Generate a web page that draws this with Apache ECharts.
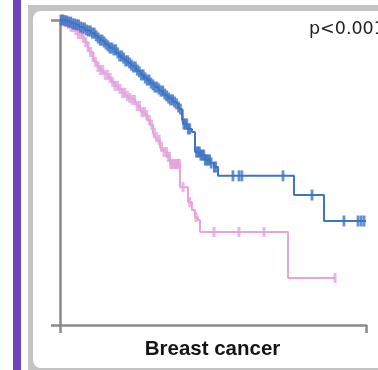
<!DOCTYPE html>
<html>
<head>
<meta charset="utf-8">
<script src="https://cdn.jsdelivr.net/npm/echarts@6/dist/echarts.min.js"></script>
<style>html,body{margin:0;padding:0;background:#fff;}#c{width:378px;height:370px;}</style>
</head>
<body>
<div id="c"></div>
<script>
// Kaplan-Meier step points: [time, survival] (survival after drop at time)
var timeMax = 250;
var blueCurve = [[0,1.0],[3.3,0.997],[6.5,0.993],[9.8,0.987],[12.3,0.984],[15.5,0.977],[18.0,0.974],[20.4,0.967],[22.9,0.964],[25.3,0.957],[28.6,0.948],[31.0,0.941],[32.7,0.934],[35.1,0.928],[36.8,0.921],[39.2,0.915],[40.8,0.908],[43.3,0.902],[45.8,0.892],[48.2,0.882],[50.7,0.875],[53.1,0.866],[55.6,0.859],[58.0,0.852],[59.6,0.846],[62.1,0.836],[63.7,0.830],[66.2,0.820],[68.6,0.810],[71.1,0.803],[73.5,0.793],[76.0,0.787],[77.6,0.780],[80.1,0.774],[81.7,0.767],[84.2,0.757],[85.8,0.751],[88.2,0.744],[89.9,0.738],[92.3,0.731],[94.0,0.725],[96.4,0.715],[98.0,0.708],[99.7,0.689],[100.5,0.659],[103.8,0.643],[107.8,0.633],[110.3,0.567],[114.4,0.557],[118.5,0.541],[122.5,0.531],[125.8,0.518],[129.1,0.489],[191.2,0.426],[215.7,0.341],[250,0.341]];
var pinkCurve = [[0,1.0],[3.3,0.993],[6.5,0.987],[9.0,0.977],[12.3,0.967],[14.7,0.954],[18.0,0.941],[20.4,0.928],[22.9,0.911],[24.5,0.895],[27.0,0.879],[28.6,0.862],[31.0,0.846],[32.7,0.836],[35.1,0.826],[36.8,0.820],[39.2,0.810],[41.7,0.797],[44.9,0.784],[47.4,0.774],[50.7,0.761],[53.1,0.751],[55.6,0.744],[58.0,0.738],[61.3,0.731],[62.9,0.718],[65.4,0.705],[67.0,0.698],[69.4,0.689],[71.1,0.672],[73.5,0.656],[76.0,0.630],[77.6,0.616],[79.2,0.607],[81.7,0.584],[83.3,0.574],[85.0,0.567],[87.4,0.551],[89.9,0.528],[98.0,0.452],[104.6,0.403],[107.8,0.377],[110.3,0.354],[112.7,0.344],[114.4,0.305],[186.3,0.154],[224.7,0.154]];
// censoring times
var blueCensor = [0.8,2.4,4.0,5.6,7.2,8.8,10.4,12.0,13.6,15.2,16.8,18.4,20.0,21.6,23.2,24.8,26.4,28.0,29.6,31.2,32.8,34.4,36.0,37.6,39.2,40.8,42.4,44.0,45.6,47.2,48.8,50.4,52.0,53.6,55.2,56.8,58.4,60.0,61.6,63.2,64.8,66.4,68.0,69.6,71.2,72.8,74.4,76.0,77.6,79.2,80.8,82.4,84.0,85.6,87.2,88.8,90.4,92.0,93.6,95.2,96.8,98.4,100.0,101.2,102.4,103.6,104.8,106.0,111.5,112.7,113.9,115.1,116.3,117.5,118.7,119.9,121.1,122.3,123.5,126.0,127.2,141.3,146.2,148.6,182.2,205.9,232.0,243.5,246.0,248.4];
var pinkCensor = [1.0,3.0,5.0,7.0,9.0,11.0,13.0,15.0,17.0,19.0,21.0,23.0,25.0,27.0,29.0,31.0,33.0,35.0,37.0,39.0,41.0,43.0,45.0,47.0,49.0,51.0,53.0,55.0,57.0,59.0,61.0,63.0,65.0,67.0,69.0,71.0,73.0,75.0,77.0,79.0,81.0,83.0,85.0,87.0,88.5,89.5,90.5,91.5,92.5,93.5,94.5,95.5,96.5,97.5,100.5,106.0,111.1,125.8,146.2,166.7,224.7];
var pText = 'p<0.001';
var titleText = 'Breast cancer';

function survAt(curve, t) {
  var s = curve[0][1];
  for (var i = 0; i < curve.length; i++) { if (curve[i][0] <= t) s = curve[i][1]; }
  return s;
}
function censorData(curve, times) { return times.map(function (t) { return [t, survAt(curve, t)]; }); }

var BLUE = '#3d74c4', PINK = '#e6a3dd', AX = '#8a8a8a';
var chart = echarts.init(document.getElementById('c'), null, {renderer: 'canvas'});
chart.setOption({
  animation: false,
  backgroundColor: '#fff',
  graphic: [
    {type: 'rect', z: -10, shape: {x: 13, y: 0, width: 8, height: 370}, style: {fill: '#6b42c2'}},
    {type: 'rect', z: -10, shape: {x: 28, y: 5, width: 400, height: 400}, style: {fill: '#c4c4c4'}},
    {type: 'rect', z: -9, shape: {x: 33, y: 11, width: 400, height: 357, r: [8, 0, 0, 8]}, style: {fill: '#fff'}},
    {type: 'text', z: 10, x: 309, y: 29, style: {text: pText, font: '17.5px "DejaVu Sans"', fill: '#222', textAlign: 'left', textVerticalAlign: 'middle'}},
    {type: 'text', z: 10, x: 212.5, y: 349, style: {text: titleText, font: 'bold 20.5px "Liberation Sans", Arial', fill: '#151515', textAlign: 'center', textVerticalAlign: 'middle'}}
  ],
  grid: {left: 60, top: 20, right: 12, bottom: 45},
  xAxis: {type: 'value', min: 0, max: timeMax, interval: timeMax,
    axisLine: {lineStyle: {color: AX, width: 2.5}},
    axisTick: {show: true, length: 8, lineStyle: {color: AX, width: 2.5}},
    axisLabel: {show: false}, splitLine: {show: false}},
  yAxis: {type: 'value', min: 0, max: 1, interval: 1,
    axisLine: {show: true, lineStyle: {color: AX, width: 2.5}},
    axisTick: {show: true, length: 9, lineStyle: {color: AX, width: 2.5}},
    axisLabel: {show: false}, splitLine: {show: false}},
  series: [
    {type: 'line', step: 'end', data: pinkCurve, showSymbol: false, lineStyle: {color: PINK, width: 2}, z: 2},
    {type: 'scatter', data: censorData(pinkCurve, pinkCensor), symbol: 'rect', symbolSize: [3, 10], itemStyle: {color: PINK}, z: 2},
    {type: 'line', step: 'end', data: blueCurve, showSymbol: false, lineStyle: {color: BLUE, width: 2}, z: 3},
    {type: 'scatter', data: censorData(blueCurve, blueCensor), symbol: 'rect', symbolSize: [2.8, 11], itemStyle: {color: BLUE}, z: 3}
  ]
});
</script>
</body>
</html>
